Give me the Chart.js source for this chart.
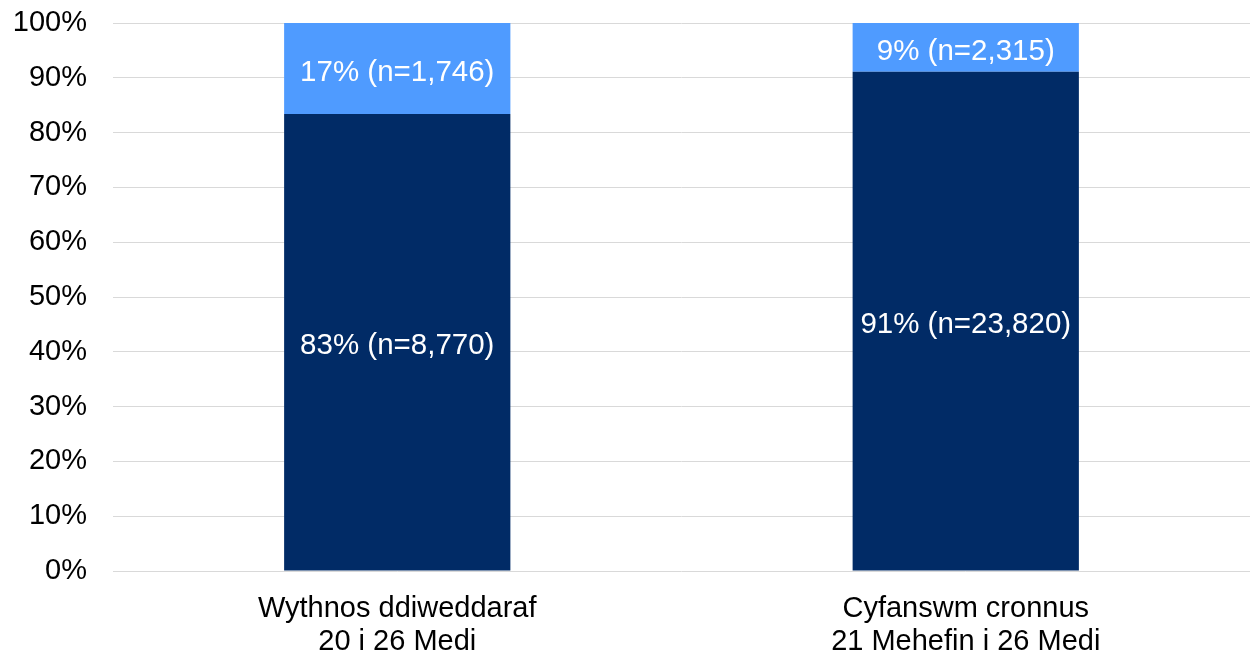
<!DOCTYPE html>
<html>
<head>
<meta charset="utf-8">
<script src="https://cdn.jsdelivr.net/npm/chart.js@4/dist/chart.umd.min.js"></script>
<style>
html,body{margin:0;padding:0;background:#fff;}
#wrap{width:1251px;height:657px;position:relative;}
</style>
</head>
<body>
<div id="wrap"><canvas id="c" width="1251" height="657"></canvas></div>
<script>
const categories = [["Wythnos ddiweddaraf","20 i 26 Medi"],["Cyfanswm cronnus","21 Mehefin i 26 Medi"]];
const darkPercent = [83.4, 91.1];
const lightPercent = [16.6, 8.9];
const darkCount = ["8,770", "23,820"];
const lightCount = ["1,746", "2,315"];
const darkLabelPct = ["83%", "91%"];
const lightLabelPct = ["17%", "9%"];

const FONT = '"Liberation Sans", Arial, sans-serif';

const labelPlugin = {
  id: 'segLabels',
  afterDatasetsDraw(chart) {
    const ctx = chart.ctx;
    ctx.save();
    ctx.font = '29.5px ' + FONT;
    ctx.fillStyle = '#ffffff';
    ctx.textAlign = 'center';
    ctx.textBaseline = 'middle';
    chart.data.datasets.forEach((ds, di) => {
      const meta = chart.getDatasetMeta(di);
      meta.data.forEach((bar, i) => {
        const txt = ds.labelsText[i];
        const yc = (bar.y + bar.base) / 2;
        ctx.fillText(txt, bar.x, yc + 4);
      });
    });
    ctx.restore();
  }
};

new Chart(document.getElementById('c'), {
  type: 'bar',
  data: {
    labels: categories,
    datasets: [
      {
        data: darkPercent,
        backgroundColor: '#012B66',
        labelsText: darkLabelPct.map((p, i) => p + ' (n=' + darkCount[i] + ')'),
        barPercentage: 0.398,
        categoryPercentage: 1
      },
      {
        data: lightPercent,
        backgroundColor: '#4F9BFF',
        labelsText: lightLabelPct.map((p, i) => p + ' (n=' + lightCount[i] + ')'),
        barPercentage: 0.398,
        categoryPercentage: 1
      }
    ]
  },
  options: {
    responsive: false,
    animation: false,
    events: [],
    layout: { padding: { top: 23, right: 1, left: 0, bottom: 0 } },
    plugins: { legend: { display: false }, tooltip: { enabled: false } },
    scales: {
      x: {
        stacked: true,
        grid: { display: false, drawTicks: false },
        border: { display: false },
        ticks: {
          color: '#000',
          font: { family: FONT, size: 29, lineHeight: 1.15 },
          padding: 21,
          maxRotation: 0
        },
        afterFit(s) { s.height = 86; s.paddingLeft = 0; s.paddingRight = 0; }
      },
      y: {
        stacked: true,
        min: 0, max: 100,
        grid: { color: '#d9d9d9', lineWidth: 1, drawTicks: false },
        border: { display: false },
        ticks: {
          stepSize: 10,
          color: '#000',
          font: { family: FONT, size: 29 },
          padding: 26,
          callback: v => v + '%'
        },
        afterFit(s) { s.width = 113; s.paddingTop = 0; s.paddingBottom = 0; }
      }
    }
  },
  plugins: [labelPlugin]
});
</script>
</body>
</html>
